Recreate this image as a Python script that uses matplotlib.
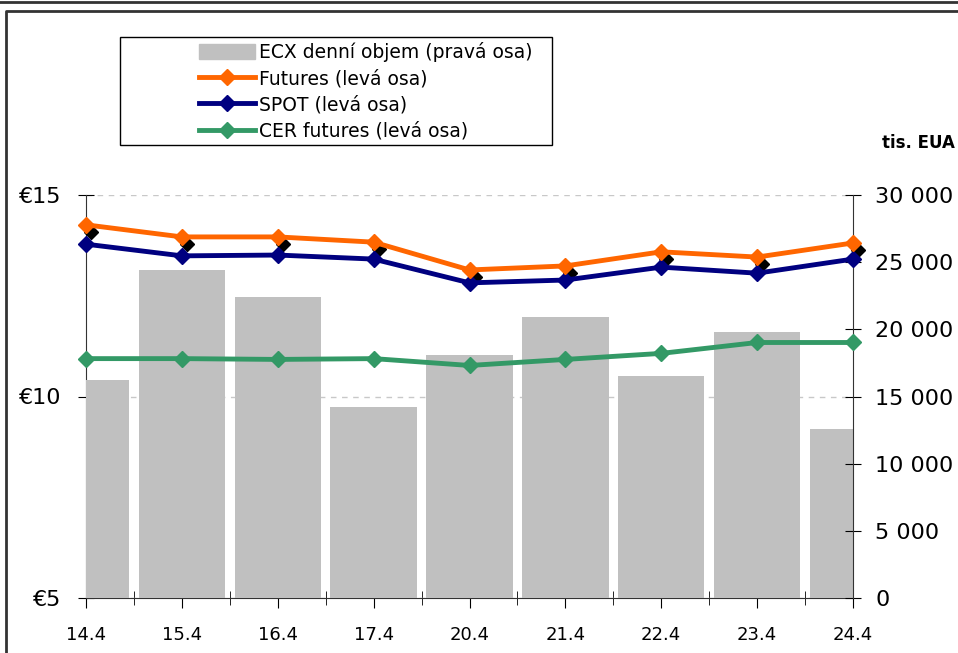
import numpy as np
import matplotlib
matplotlib.use("Agg")
import matplotlib.pyplot as plt
from matplotlib.lines import Line2D
from matplotlib.patches import Rectangle, Patch
from matplotlib.transforms import offset_copy
from matplotlib.ticker import FuncFormatter, MultipleLocator

dates = ["14.4", "15.4", "16.4", "17.4", "20.4", "21.4", "22.4", "23.4", "24.4"]
volume = [16200, 24400, 22400, 14200, 18100, 20900, 16500, 19800, 12600]
futures = [14.26, 13.96, 13.96, 13.83, 13.14, 13.24, 13.59, 13.46, 13.81]
spot = [13.78, 13.49, 13.51, 13.41, 12.82, 12.89, 13.21, 13.06, 13.41]
cer = [10.94, 10.94, 10.92, 10.94, 10.77, 10.92, 11.07, 11.34, 11.34]

c_bar = "#C0C0C0"
c_fut = "#FF6600"
c_spot = "#000080"
c_cer = "#339966"

plt.rcParams['font.family'] = ['DejaVu Sans']
fig = plt.figure(figsize=(9.58, 6.53), dpi=100)
pos = [86/958, 1-598/653, (853-86)/958, (598-195)/653]
x = np.arange(len(dates))

# base axis: euro scale, grid, left ticks
ax = fig.add_axes(pos)
ax.set_xlim(0, len(dates)-1)
ax.set_ylim(5, 15)
ax.yaxis.set_major_locator(MultipleLocator(5))
ax.yaxis.set_major_formatter(FuncFormatter(lambda v, p: "€%d" % v))
ax.yaxis.grid(True, color="#C8C8C8", linestyle=(0, (4, 4)), linewidth=1)
ax.set_xticks(x)
ax.set_xticklabels(dates)
ax.set_xticks(x[:-1] + 0.5, minor=True)
ax.tick_params(axis='x', which='major', direction='out', length=7, labelsize=13, pad=13)
ax.tick_params(axis='x', which='minor', direction='inout', length=10)
ax.tick_params(axis='y', direction='inout', length=12, labelsize=16, pad=12)
for s in ['top', 'right']:
    ax.spines[s].set_visible(False)
ax.spines['left'].set_color('#333333')
ax.spines['bottom'].set_color('#333333')

# volume bars on right axis
ax2 = ax.twinx()
ax2.bar(x, volume, width=0.9, color=c_bar, zorder=1)
ax2.set_ylim(0, 30000)
ax2.yaxis.set_major_locator(MultipleLocator(5000))
ax2.yaxis.set_major_formatter(FuncFormatter(lambda v, p: "{:,.0f}".format(v).replace(",", " ")))
ax2.tick_params(axis='y', direction='inout', length=12, labelsize=16, pad=10)
for s in ['top', 'left', 'bottom']:
    ax2.spines[s].set_visible(False)
ax2.spines['right'].set_color('#333333')
ax2.patch.set_visible(False)

# price lines on top
ax3 = fig.add_axes(pos, sharex=ax, sharey=ax)
ax3.axis('off')
shadow = offset_copy(ax3.transData, fig=fig, x=5, y=-7, units='dots')
ax3.plot(x, futures, 'D', color='black', ms=7.5, transform=shadow, clip_on=False)
ax3.plot(x, cer, '-D', color=c_cer, lw=3.5, ms=8.5, clip_on=False)
ax3.plot(x, spot, '-D', color=c_spot, lw=3.5, ms=8.5, clip_on=False)
ax3.plot(x, futures, '-D', color=c_fut, lw=3.5, ms=8.5, clip_on=False)

# legend
fig.patches.append(Rectangle((120/958, 1-145/653), 432/958, 108/653, transform=fig.transFigure,
                             fill=False, edgecolor='black', linewidth=1))
handles = [Patch(color=c_bar),
           Line2D([], [], color=c_fut, lw=3.5, marker='D', ms=8.5),
           Line2D([], [], color=c_spot, lw=3.5, marker='D', ms=8.5),
           Line2D([], [], color=c_cer, lw=3.5, marker='D', ms=8.5)]
labels = ["ECX denní objem (pravá osa)", "Futures (levá osa)",
          "SPOT (levá osa)", "CER futures (levá osa)"]
fig.legend(handles, labels, loc='upper left', bbox_to_anchor=(199/958, 1-42/653),
           frameon=False, fontsize=13.5, handlelength=3.0, handleheight=0.8,
           handletextpad=0.2, labelspacing=0.38, borderpad=0, borderaxespad=0)

fig.text(955/958, 1-143/653, "tis. EUA", ha='right', va='center', fontsize=12, fontweight='bold')

# outer frame lines
fig.add_artist(Line2D([0, 1], [1-1.5/653, 1-1.5/653], transform=fig.transFigure, color='#333333', lw=2))
fig.add_artist(Line2D([6/958, 6/958, 1], [0, 1-11/653, 1-11/653], transform=fig.transFigure, color='#333333', lw=2))

fig.savefig("out.png", dpi=100)
